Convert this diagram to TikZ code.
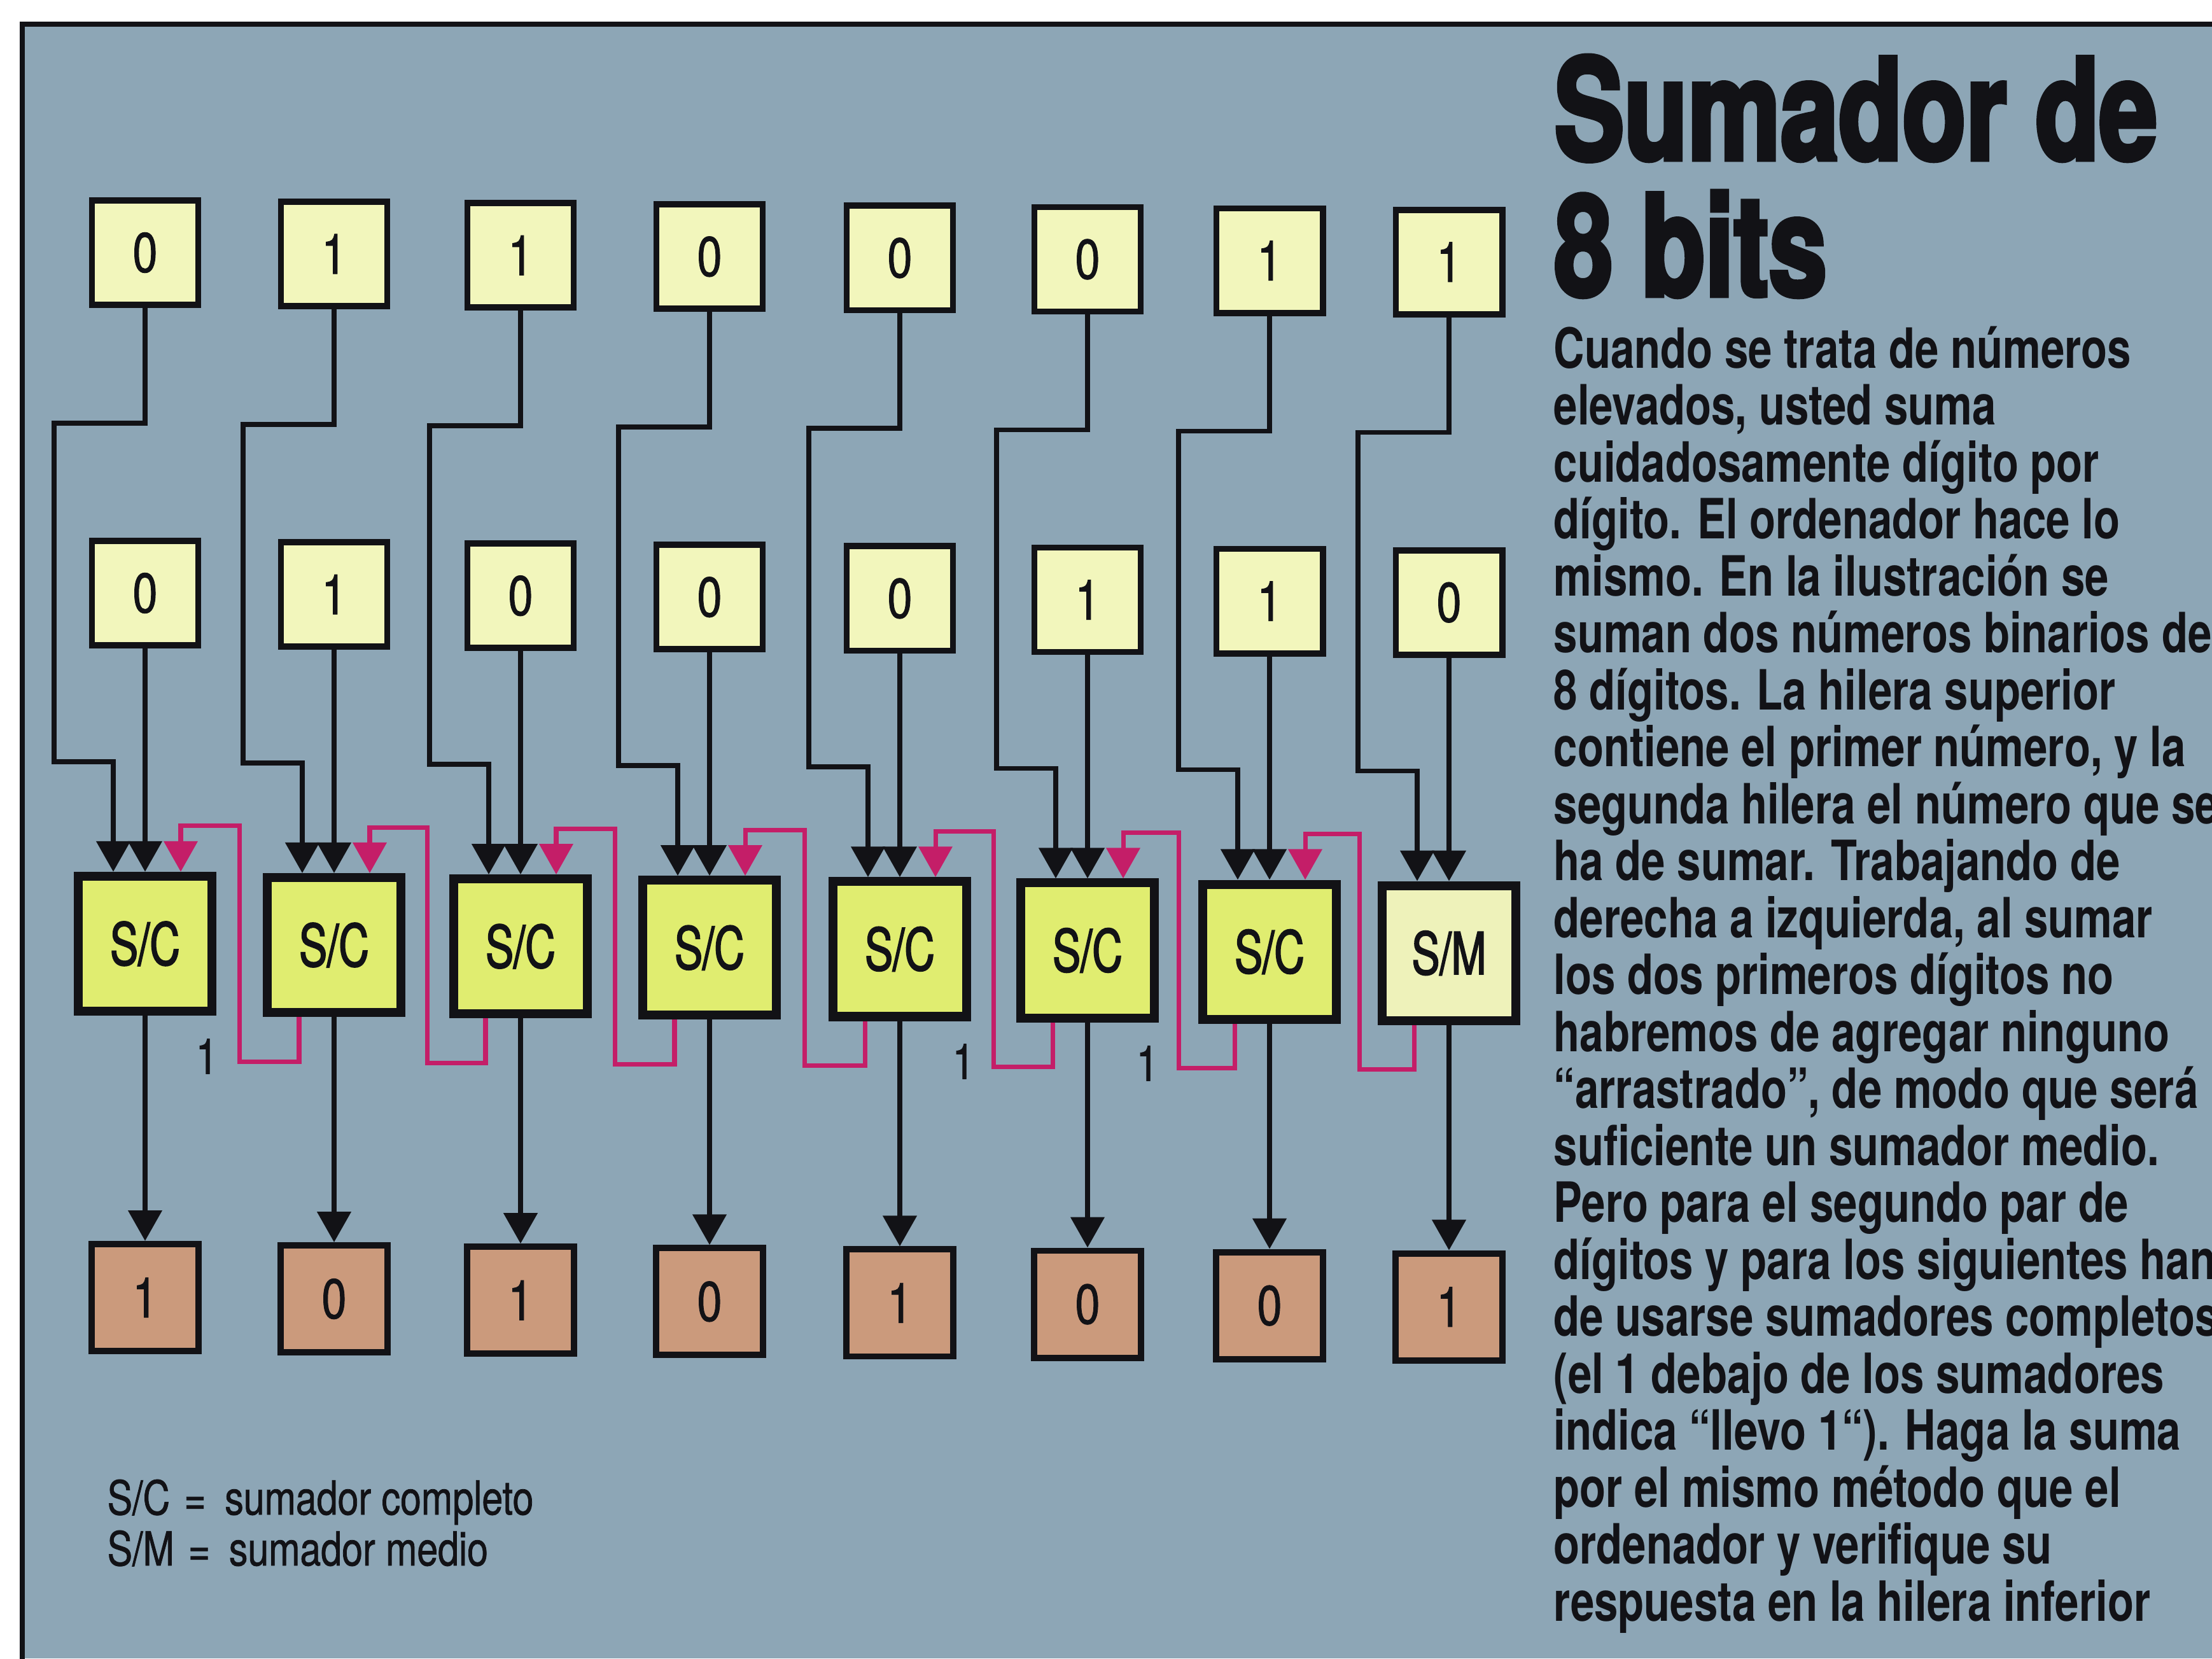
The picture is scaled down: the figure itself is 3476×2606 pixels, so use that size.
\documentclass[tikz,border=0pt]{standalone}
\usepackage{fontspec}
\setmainfont{TeX Gyre Heros}[FakeStretch=0.82]
\newfontfamily\bodyfont{TeX Gyre Heros}[FakeStretch=0.77]
\newfontfamily\titlefont{TeX Gyre Heros}[FakeStretch=0.74,FakeBold=3]
\newfontfamily\addfont{TeX Gyre Heros}[FakeStretch=0.72,FakeBold=2]
\newfontfamily\legfont{TeX Gyre Heros}[FakeStretch=0.80,FakeBold=1]
\usetikzlibrary{arrows.meta,calc}
\definecolor{bg}{RGB}{141,166,182}
\definecolor{inyel}{RGB}{242,246,188}
\definecolor{addyel}{RGB}{224,237,112}
\definecolor{halfyel}{RGB}{238,242,186}
\definecolor{outtan}{RGB}{203,154,124}
\definecolor{carrymag}{RGB}{196,30,104}
\definecolor{ink}{RGB}{18,18,22}
\tikzset{
  bitbox/.style={draw=ink, line width=2.8pt, fill=inyel, minimum width=1.67cm, minimum height=1.64cm, inner sep=0pt, text=ink, font=\legfont\fontsize{25}{25}\selectfont},
  outbox/.style={bitbox, fill=outtan, minimum height=1.68cm, minimum width=1.68cm},
  adder/.style={draw=ink, line width=4pt, fill=addyel, minimum width=2.10cm, minimum height=2.12cm, inner sep=0pt, text=ink, font=\addfont\fontsize{26}{26}\selectfont},
  halfadder/.style={adder, fill=halfyel},
  wire/.style={draw=ink, line width=2.2pt},
  headed/.style={-{Triangle[width=0.52cm,length=0.48cm]}},
  carry/.style={draw=carrymag, line width=2pt, -{Triangle[width=0.52cm,length=0.48cm]}},
  carrylbl/.style={inner sep=0pt, text=ink, font=\legfont\fontsize{22}{22}\selectfont},
  legendtxt/.style={anchor=base west, inner sep=0pt, text=ink, font=\legfont\fontsize{21}{21}\selectfont},
  bodytxt/.style={anchor=base west, inner sep=0pt, text=ink, font=\bodyfont\bfseries\fontsize{24.8}{25.4}\selectfont},
  titletxt/.style={anchor=base west, inner sep=0pt, text=ink, font=\titlefont\bfseries\fontsize{63}{63}\selectfont}
}
\begin{document}
\begin{tikzpicture}[x=0.01cm,y=-0.01cm]
\useasboundingbox (0,0) rectangle (3476,2606);
\fill[white] (0,0) rectangle (3476,2606);
\fill[bg] (35,38) rectangle (3476,2606);
\draw[ink, line width=2.4pt] (35,2620) -- (35,38) -- (3490,38);

% boxes
\foreach \ra/\rb/\rs [count=\i] in {0/0/1,1/1/0,1/0/1,0/0/0,0/0/1,0/1/0,1/1/0,1/0/1}{
  \pgfmathsetmacro\cx{{228,525,818,1115,1414,1709,1995,2277}[\i-1]}
  \pgfmathsetmacro\dy{2.1*(\i-1)}
  \node[bitbox] (T\i) at (\cx,397+\dy) {\ra};
  \node[bitbox] (B\i) at (\cx,932+\dy) {\rb};
  \node[outbox] (O\i) at (\cx,2039+\dy) {\rs};
}
\foreach \i in {1,...,7}{
  \pgfmathsetmacro\cx{{228,525,818,1115,1414,1709,1995,2277}[\i-1]}
  \pgfmathsetmacro\dy{2.1*(\i-1)}
  \node[adder] (A\i) at (\cx,1483+\dy) {S/C};
}
\node[halfadder] (A8) at (2277,1497.7) {S/M};

% wires
\foreach \i in {1,...,8}{
  \draw[wire,headed] (T\i.south) |- ($(A\i.north)+(-143,-705)$) |- ($(A\i.north)+(-50,-173)$) -- ($(A\i.north)+(-50,0)$);
  \draw[wire,headed] (B\i.south) -- (A\i.north);
  \draw[wire,headed] (A\i.south) -- (O\i.north);
}

% carries
\foreach \i/\j in {1/2,2/3,3/4,4/5,5/6,6/7,7/8}{
  \coordinate (G\i) at ($(A\i.east)!0.5!(A\j.west)$);
  \draw[carry] ($(A\j.south)+(-55,0)$) -- ++(0,70) -| ($(G\i |- A\i.north)+(0,-72)$) -| ($(A\i.north)+(56,0)$);
}

% carry labels
\node[carrylbl] (K1) at (325,1660) {1};
\node[carrylbl] (K5) at (1514,1668) {1};
\node[carrylbl] (K6) at (1803,1671) {1};

% legend
\node[legendtxt] (leg1) at (168,2380) {S/C\hspace{0.3em}=\hspace{0.4em}sumador completo};
\node[legendtxt] (leg2) at (168,2460) {S/M\hspace{0.3em}=\hspace{0.4em}sumador medio};

% title
\node[titletxt] (title1) at (2442,251) {Sumador de};
\node[titletxt] (title2) at (2442,465) {8 bits};

% body text
\foreach \t [count=\k] in {
  {Cuando se trata de números},
  {elevados, usted suma},
  {cuidadosamente dígito por},
  {dígito. El ordenador hace lo},
  {mismo. En la ilustración se},
  {suman dos números binarios de},
  {8 dígitos. La hilera superior},
  {contiene el primer número, y la},
  {segunda hilera el número que se},
  {ha de sumar. Trabajando de},
  {derecha a izquierda, al sumar},
  {los dos primeros dígitos no},
  {habremos de agregar ninguno},
  {“arrastrado”, de modo que será},
  {suficiente un sumador medio.},
  {Pero para el segundo par de},
  {dígitos y para los siguientes han},
  {de usarse sumadores completos},
  {(el 1 debajo de los sumadores},
  {indica “llevo 1“). Haga la suma},
  {por el mismo método que el},
  {ordenador y verifique su},
  {respuesta en la hilera inferior}}{
  \node[bodytxt] (L\k) at (2441,578+89.5*\k-89.5) {\t};
}
\end{tikzpicture}
\end{document}
